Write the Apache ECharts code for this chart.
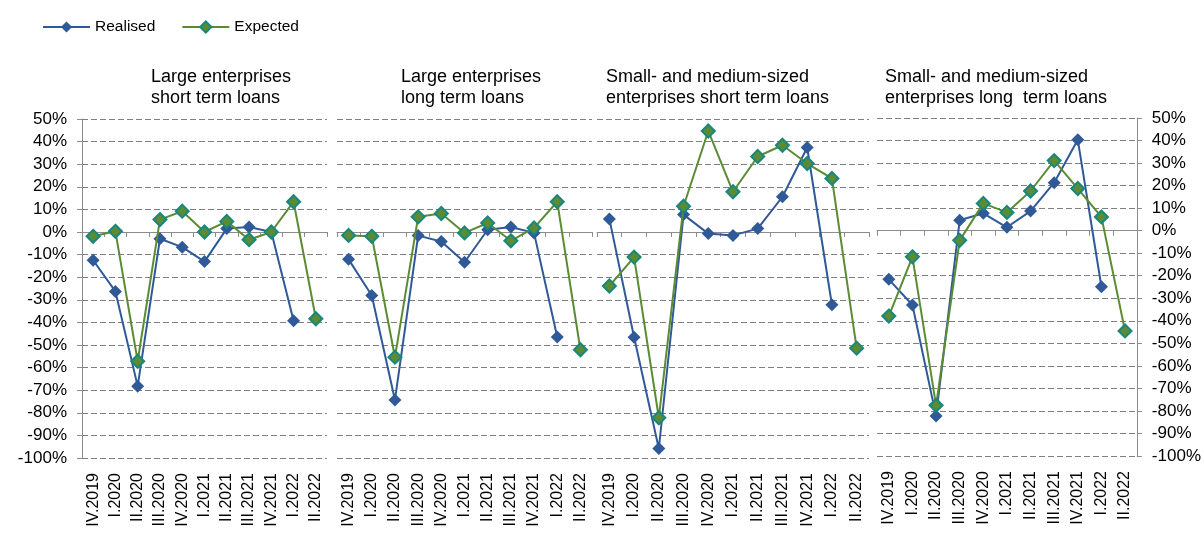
<!DOCTYPE html>
<html>
<head>
<meta charset="utf-8">
<script src="https://cdn.jsdelivr.net/npm/echarts@6/dist/echarts.min.js"></script>
<style>
html,body{margin:0;padding:0;background:#fff;}
#chart{width:1204px;height:533px;}
</style>
</head>
<body>
<div id="chart"></div>
<script>
const categories = ['IV.2019','I.2020','II.2020','III.2020','IV.2020','I.2021','II.2021','III.2021','IV.2021','I.2022','II.2022'];
const panelTitles = [
  'Large enterprises\nshort term loans',
  'Large enterprises\nlong term loans',
  'Small- and medium-sized\nenterprises short term loans',
  'Small- and medium-sized\nenterprises long  term loans'
];
const realisedLargeShort = [-12.5, -26.3, -68.2, -3.0, -6.7, -13.1, 1.5, 2.2, 0.0, -39.3, null];
const expectedLargeShort = [-1.9, 0.3, -57.2, 5.5, 9.2, 0.0, 4.7, -3.4, 0.0, 13.4, -38.4];
const realisedLargeLong = [-12.1, -28.1, -74.3, -1.6, -4.2, -13.4, 1.0, 2.2, -0.4, -46.5, null];
const expectedLargeLong = [-1.5, -1.9, -55.4, 6.7, 8.2, -0.4, 4.0, -3.9, 1.8, 13.4, -52.1];
const realisedSmeShort = [5.8, -46.6, -95.8, 7.7, -0.7, -1.5, 1.5, 15.6, 37.4, -32.2, null];
const expectedSmeShort = [-23.9, -11.1, -82.2, 11.4, 44.7, 17.8, 33.4, 38.4, 30.3, 23.7, -51.4];
const realisedSmeLong = [-21.6, -33.0, -82.2, 4.6, 7.7, 1.5, 8.7, 21.3, 40.3, -24.9, null];
const expectedSmeLong = [-37.9, -11.6, -77.5, -4.3, 12.1, 8.1, 17.6, 31.1, 18.7, 6.1, -44.5];

const realisedSets = [realisedLargeShort, realisedLargeLong, realisedSmeShort, realisedSmeLong];
const expectedSets = [expectedLargeShort, expectedLargeLong, expectedSmeShort, expectedSmeLong];

const BLUE = '#2F5A97';
const GREEN = '#5B8C33';
const TEAL = '#17877F';
const FONT = '"Liberation Sans", Arial, sans-serif';

const grids = [
  {left: 82, width: 245, top: 119, height: 339},
  {left: 337, width: 255, top: 119, height: 339},
  {left: 597, width: 272, top: 119, height: 339},
  {left: 877, width: 260, top: 118, height: 338}
];
const titleLeft = [151, 401, 606, 885];

const xAxes = grids.map((g, i) => ({
  type: 'category', gridIndex: i, data: categories, boundaryGap: true,
  axisLine: {show: true, lineStyle: {color: '#8C8C8C', width: 1}},
  axisTick: {show: true, length: 5, lineStyle: {color: '#8C8C8C'}},
  axisLabel: {interval: 0, rotate: 90, fontSize: 16, color: '#000', fontFamily: FONT, margin: 15},
  splitLine: {show: false}
}));

const yAxes = grids.map((g, i) => ({
  type: 'value', gridIndex: i, min: -100, max: 50, interval: 10,
  position: i === 3 ? 'right' : 'left',
  axisLine: {show: i === 0 || i === 3, lineStyle: {color: '#8C8C8C', width: 1}},
  axisTick: {show: i === 0 || i === 3, length: 5, lineStyle: {color: '#8C8C8C'}},
  axisLabel: {show: i === 0 || i === 3, formatter: '{value}%', fontSize: 17, color: '#000', fontFamily: FONT, margin: 15},
  splitLine: {show: true, lineStyle: {color: '#7F7F7F', width: 1, type: [6, 3]}}
}));

const series = [];
for (let i = 0; i < 4; i++) {
  series.push({
    name: 'Realised', type: 'line', xAxisIndex: i, yAxisIndex: i,
    data: realisedSets[i], symbol: 'diamond', symbolSize: 13,
    connectNulls: false, animation: false, z: 2,
    lineStyle: {color: BLUE, width: 2},
    itemStyle: {color: BLUE, borderWidth: 0}
  });
  series.push({
    name: 'Expected', type: 'line', xAxisIndex: i, yAxisIndex: i,
    data: expectedSets[i], symbol: 'diamond', symbolSize: 13,
    connectNulls: false, animation: false, z: 3,
    lineStyle: {color: GREEN, width: 2},
    itemStyle: {color: GREEN, borderColor: TEAL, borderWidth: 2}
  });
}

const option = {
  backgroundColor: '#fff',
  animation: false,
  textStyle: {fontFamily: FONT},
  title: panelTitles.map((t, i) => ({
    text: t, left: titleLeft[i], top: 67, padding: 0,
    textStyle: {fontSize: 18, fontWeight: 'normal', color: '#000', lineHeight: 21, fontFamily: FONT}
  })),
  legend: {
    data: ['Realised', 'Expected'], left: 42, top: 19, padding: 0,
    itemWidth: 47, itemHeight: 14, itemGap: 26,
    textStyle: {fontSize: 15.5, color: '#000', fontFamily: FONT}
  },
  grid: grids,
  xAxis: xAxes,
  yAxis: yAxes,
  series: series
};

const chart = echarts.init(document.getElementById('chart'), null, {renderer: 'canvas'});
chart.setOption(option);
</script>
</body>
</html>
